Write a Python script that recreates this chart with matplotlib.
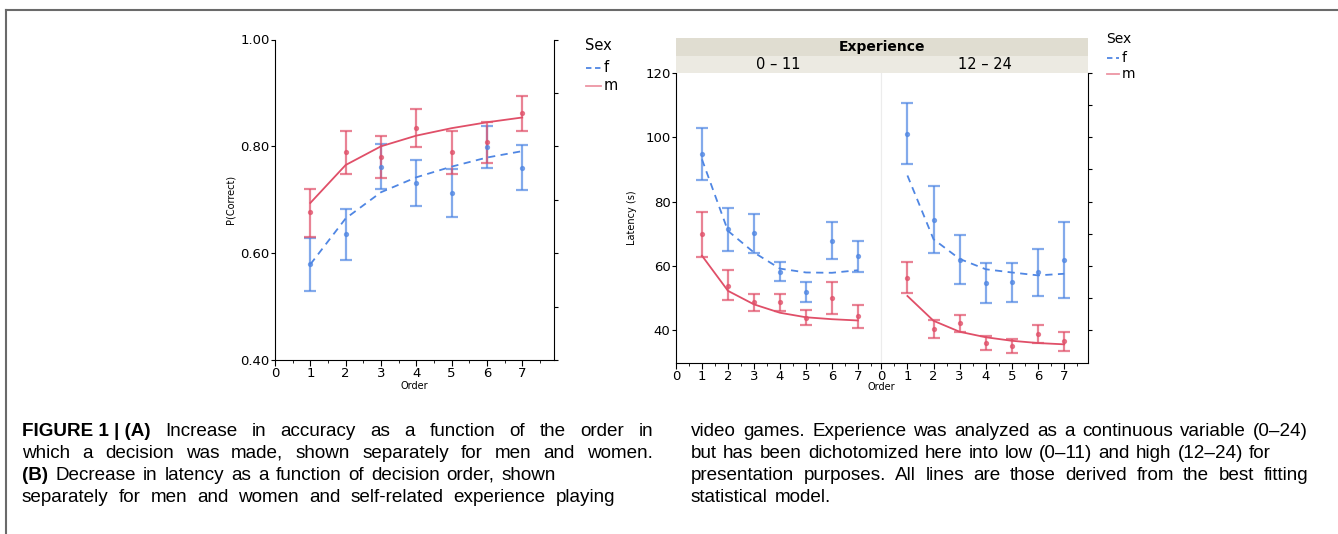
import numpy as np
import matplotlib.pyplot as plt
from matplotlib.lines import Line2D
from matplotlib.patches import Rectangle

# ---- data ----
order = [1, 2, 3, 4, 5, 6, 7]

# panel A: P(Correct)
acc_f = [0.579, 0.635, 0.762, 0.731, 0.712, 0.799, 0.760]
acc_f_hi = [0.628, 0.682, 0.804, 0.775, 0.757, 0.838, 0.802]
acc_f_lo = [0.530, 0.588, 0.721, 0.688, 0.667, 0.759, 0.718]
acc_f_fit = [0.579, 0.665, 0.714, 0.742, 0.762, 0.779, 0.791]

acc_m = [0.677, 0.789, 0.780, 0.835, 0.789, 0.808, 0.862]
acc_m_hi = [0.721, 0.828, 0.820, 0.870, 0.828, 0.846, 0.895]
acc_m_lo = [0.631, 0.749, 0.740, 0.799, 0.749, 0.769, 0.829]
acc_m_fit = [0.694, 0.765, 0.800, 0.820, 0.834, 0.845, 0.854]

# panel B: latency, experience 0-11
lat_low_f = [94.8, 71.4, 70.2, 58.3, 51.9, 67.9, 63.0]
lat_low_f_hi = [102.7, 78.0, 76.3, 61.2, 55.0, 73.6, 67.9]
lat_low_f_lo = [86.8, 64.8, 64.2, 55.3, 48.8, 62.2, 58.3]
lat_low_f_fit = [93.1, 70.9, 64.2, 59.2, 58.0, 57.9, 58.7]

lat_low_m = [69.8, 53.9, 48.7, 48.7, 44.0, 50.2, 44.4]
lat_low_m_hi = [76.7, 58.7, 51.4, 51.4, 46.5, 55.1, 47.9]
lat_low_m_lo = [62.8, 49.4, 46.1, 46.1, 41.7, 45.2, 40.8]
lat_low_m_fit = [63.2, 52.3, 48.1, 45.5, 44.1, 43.5, 43.1]

# panel B: latency, experience 12-24
lat_high_f = [101.1, 74.3, 61.9, 54.8, 54.9, 58.0, 61.9]
lat_high_f_hi = [110.6, 84.7, 69.5, 61.0, 61.0, 65.2, 73.8]
lat_high_f_lo = [91.6, 64.1, 54.5, 48.6, 48.8, 50.7, 50.0]
lat_high_f_fit = [88.1, 68.3, 62.2, 59.0, 58.0, 57.1, 57.6]

lat_high_m = [56.4, 40.5, 42.2, 36.1, 35.2, 38.8, 36.6]
lat_high_m_hi = [61.3, 43.1, 44.9, 38.3, 37.4, 41.7, 39.4]
lat_high_m_lo = [51.6, 37.7, 39.6, 33.8, 32.9, 36.0, 33.7]
lat_high_m_fit = [50.7, 43.0, 39.6, 37.9, 36.8, 36.1, 35.7]

exp_groups = ["0 \u2013 11", "12 \u2013 24"]

BLUE = "#4f86e3"
RED = "#e04f68"

W, H = 1338, 534
fig = plt.figure(figsize=(W / 100, H / 100), dpi=100)


def px(x0, y0, x1, y1):
    # pixel box -> figure fraction [left, bottom, width, height]
    return [x0 / W, 1 - y1 / H, (x1 - x0) / W, (y1 - y0) / H]


def draw_series(ax, y, hi, lo, fit, color, ls):
    y = np.array(y)
    err = [y - np.array(lo), np.array(hi) - y]
    ax.errorbar(order, y, yerr=err, fmt="o", ms=2.8, color=color, ecolor=color,
                elinewidth=1.6, capsize=4.5, capthick=1.6, alpha=0.7, zorder=3)
    ax.plot(order, fit, ls=ls, color=color, lw=1.3, zorder=4)


def style_x(ax):
    ax.set_xlim(0, 7.9)
    ax.set_xticks(range(8))
    ax.set_xticks(np.arange(0.5, 8, 1), minor=True)
    ax.tick_params(axis="x", which="major", direction="out", length=4, labelsize=9.5, pad=1)
    ax.tick_params(axis="x", which="minor", direction="out", length=2.5)
    ax.spines["top"].set_visible(False)


# ---------------- panel A ----------------
axA = fig.add_axes(px(275, 39.5, 554, 360))
draw_series(axA, acc_f, acc_f_hi, acc_f_lo, acc_f_fit, BLUE, (0, (4, 3)))
draw_series(axA, acc_m, acc_m_hi, acc_m_lo, acc_m_fit, RED, "-")
style_x(axA)
axA.set_ylim(0.40, 1.00)
axA.set_yticks([0.4, 0.6, 0.8, 1.0])
axA.set_yticklabels(["0.40", "0.60", "0.80", "1.00"])
axA.tick_params(axis="y", direction="out", length=3, labelsize=9.5, pad=1)
axA.spines["right"].set_visible(False)
secA = axA.secondary_yaxis("right")
secA.set_yticks(np.arange(0.4, 1.01, 0.1))
secA.set_yticklabels([])
secA.tick_params(direction="out", length=3)
axA.set_xlabel("Order", fontsize=7, labelpad=1)
axA.set_ylabel("P(Correct)", fontsize=7, labelpad=3)

# legend A
fig.text(585 / W, 1 - 46 / H, "Sex", fontsize=10.5, va="center")
fig.add_artist(Line2D([586 / W, 601 / W], [1 - 68 / H] * 2, color=BLUE, lw=1.3, ls=(0, (3, 2))))
fig.text(604 / W, 1 - 68 / H, "f", fontsize=10.5, va="center")
fig.add_artist(Line2D([586 / W, 601 / W], [1 - 86 / H] * 2, color=RED, lw=1.3, alpha=0.6))
fig.text(604 / W, 1 - 86 / H, "m", fontsize=10.5, va="center")

# ---------------- panel B ----------------
boxes = [(676, 881.3), (881.3, 1087.7)]
panels = [
    (lat_low_f, lat_low_f_hi, lat_low_f_lo, lat_low_f_fit,
     lat_low_m, lat_low_m_hi, lat_low_m_lo, lat_low_m_fit),
    (lat_high_f, lat_high_f_hi, lat_high_f_lo, lat_high_f_fit,
     lat_high_m, lat_high_m_hi, lat_high_m_lo, lat_high_m_fit),
]
axesB = []
for i, ((x0, x1), d) in enumerate(zip(boxes, panels)):
    ax = fig.add_axes(px(x0, 72.7, x1, 362.7))
    draw_series(ax, d[0], d[1], d[2], d[3], BLUE, (0, (4, 3)))
    draw_series(ax, d[4], d[5], d[6], d[7], RED, "-")
    style_x(ax)
    ax.set_ylim(30, 120)
    axesB.append(ax)
    # strip label
    sax = fig.add_axes(px(x0, 56, x1, 72.7))
    sax.add_patch(Rectangle((0, 0), 1, 1, transform=sax.transAxes, color="#eceae2"))
    sax.text(0.5, 0.5, exp_groups[i], ha="center", va="center", fontsize=10.5)
    sax.axis("off")

axL, axR = axesB
axL.set_yticks([40, 60, 80, 100, 120])
axL.tick_params(axis="y", direction="out", length=3, labelsize=9.5, pad=1)
axL.spines["right"].set_color("#ececec")
axL.set_ylabel("Latency (s)", fontsize=7, labelpad=6)
axR.set_yticks([])
axR.spines["left"].set_color("#ececec")
axR.spines["right"].set_visible(False)
secB = axR.secondary_yaxis("right")
secB.set_yticks(np.arange(40, 121, 10))
secB.set_yticklabels([])
secB.tick_params(direction="out", length=3)
fig.text(881 / W, 1 - 387 / H, "Order", fontsize=7, ha="center", va="center")

# top strip "Experience"
tax = fig.add_axes(px(676, 38, 1087.7, 56))
tax.add_patch(Rectangle((0, 0), 1, 1, transform=tax.transAxes, color="#e0ddd1"))
tax.text(0.5, 0.5, "Experience", ha="center", va="center", fontsize=10, fontweight="bold")
tax.axis("off")

# legend B
fig.text(1106 / W, 1 - 39 / H, "Sex", fontsize=10, va="center")
fig.add_artist(Line2D([1107 / W, 1119 / W], [1 - 58 / H] * 2, color=BLUE, lw=1.3, ls=(0, (3, 2))))
fig.text(1122 / W, 1 - 58 / H, "f", fontsize=10, va="center")
fig.add_artist(Line2D([1107 / W, 1119 / W], [1 - 74 / H] * 2, color=RED, lw=1.3, alpha=0.6))
fig.text(1122 / W, 1 - 74 / H, "m", fontsize=10, va="center")

# ---------------- frame and caption ----------------
fig.add_artist(Line2D([6.5 / W, 1], [1 - 10 / H] * 2, color="#6a6a6a", lw=1.5))
fig.add_artist(Line2D([6.5 / W] * 2, [1 - 10 / H, 0], color="#6a6a6a", lw=1.5))

cap_font = ["Liberation Sans", "DejaVu Sans"]
CAP_SIZE = 13.6
B = "bold"
N = "normal"
caption_left = [
    [("FIGURE 1 | (A)", B), ("Increase", N), ("in", N), ("accuracy", N), ("as", N),
     ("a", N), ("function", N), ("of", N), ("the", N), ("order", N), ("in", N)],
    [(w, N) for w in "which a decision was made, shown separately for men and women.".split()],
    [("(B)", B)] + [(w, N) for w in "Decrease in latency as a function of decision order, shown".split()],
    [(w, N) for w in "separately for men and women and self-related experience playing".split()],
]
caption_right = [
    [(w, N) for w in "video games. Experience was analyzed as a continuous variable (0\u201324)".split()],
    [(w, N) for w in "but has been dichotomized here into low (0\u201311) and high (12\u201324) for".split()],
    [(w, N) for w in "presentation purposes. All lines are those derived from the best fitting".split()],
    [(w, N) for w in "statistical model.".split()],
]
line_y = [431, 453, 475, 497]
# None = natural word spacing
left_ends = [653, 653, 556, 615]
right_ends = [1308, 1271, 1308, None]
renderer = fig.canvas.get_renderer()
probe = fig.text(0, 0, "a b", fontsize=CAP_SIZE, family=cap_font)
probe2 = fig.text(0, 0, "ab", fontsize=CAP_SIZE, family=cap_font)
space_w = (probe.get_window_extent(renderer=renderer).width
           - probe2.get_window_extent(renderer=renderer).width)
probe.remove()
probe2.remove()


def set_line(words, x0, x1, yy):
    arts = []
    total = 0
    for txt, w in words:
        t = fig.text(0, 1 - yy / H, txt, fontsize=CAP_SIZE, fontweight=w,
                     family=cap_font, va="center", ha="left")
        wd = t.get_window_extent(renderer=renderer).width
        arts.append((t, wd))
        total += wd
    if x1 is None:
        gap = space_w * 1.3
    else:
        gap = max((x1 - x0 - total) / max(len(words) - 1, 1), 0.6 * space_w)
    x = x0
    for t, wd in arts:
        t.set_x(x / W)
        x += wd + gap


for words, yy, xe in zip(caption_left, line_y, left_ends):
    set_line(words, 22, xe, yy)
for words, yy, xe in zip(caption_right, line_y, right_ends):
    set_line(words, 691, xe, yy)

fig.savefig("out.png", dpi=100)
